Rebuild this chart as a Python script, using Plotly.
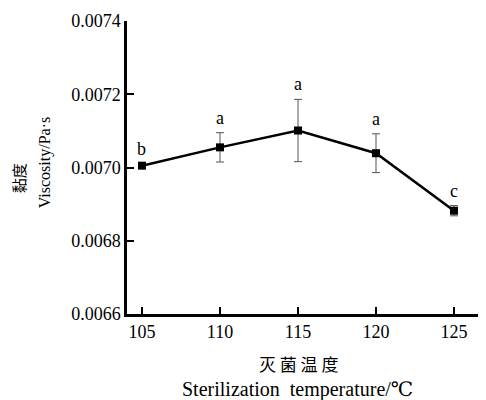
import plotly.graph_objects as go

temps = [105, 110, 115, 120, 125]
viscosity = [0.007005, 0.007055, 0.007101, 0.007039, 0.006882]
errors = [0.000005, 0.000040, 0.000085, 0.000053, 0.000014]
letters = ["b", "a", "a", "a", "c"]
y_ticks = [0.0066, 0.0068, 0.0070, 0.0072, 0.0074]
x_ticks = [105, 110, 115, 120, 125]

serif = "Times New Roman, Liberation Serif, DejaVu Serif, serif"
cjk = "Noto Sans CJK SC, serif"

# page offset compensation (browser body margin of 8px)
OFF = 8
W, H = 486 - OFF, 400 - OFF
PL, PR, PT, PB = 127, 486, 20.7, 313.7  # plot area in page pixels


def px(xp):
    return (xp - PL) / (PR - PL)


def py(yp):
    return (PB - yp) / (PB - PT)


fig = go.Figure()
fig.add_trace(go.Scatter(
    x=temps, y=viscosity, mode="lines+markers",
    line=dict(color="black", width=2.5),
    marker=dict(symbol="square", size=8, color="black"),
    error_y=dict(type="data", array=errors, visible=True, color="#555555",
                 thickness=1, width=4),
    showlegend=False,
))

for t, v, e, l in zip(temps, viscosity, errors, letters):
    fig.add_annotation(x=t, y=v + e, text=l, showarrow=False, yanchor="middle",
                       yshift=15, font=dict(family=serif, size=18, color="black"))

fig.add_annotation(xref="paper", yref="paper", x=px(45), y=py(163),
                   text="Viscosity/Pa·s", textangle=-90, showarrow=False,
                   xanchor="center", yanchor="middle",
                   font=dict(family=serif, size=16, color="black"))
fig.add_annotation(xref="paper", yref="paper", x=px(18), y=py(178),
                   text="黏度", textangle=-90, showarrow=False,
                   xanchor="center", yanchor="middle",
                   font=dict(family=cjk, size=15, color="black"))
fig.add_annotation(xref="paper", yref="paper", x=px(298), y=py(363),
                   text="灭 菌 温 度", showarrow=False,
                   xanchor="center", yanchor="middle",
                   font=dict(family=cjk, size=17, color="black"))
fig.add_annotation(xref="paper", yref="paper", x=px(297), y=py(389),
                   text="Sterilization  temperature/℃", showarrow=False,
                   xanchor="center", yanchor="middle",
                   font=dict(family=serif, size=20, color="black"))

fig.update_layout(
    width=W, height=H,
    margin=dict(l=PL - OFF, r=0, t=PT - OFF, b=H - (PB - OFF), pad=0),
    paper_bgcolor="white", plot_bgcolor="white",
    xaxis=dict(range=[104.04, 127.05], tickvals=x_ticks, ticks="inside", ticklen=7,
               tickwidth=2, tickcolor="black", showline=True, linecolor="black",
               linewidth=2.5, showgrid=False, zeroline=False,
               tickfont=dict(family=serif, size=18, color="black")),
    yaxis=dict(range=[0.0066, 0.0074], tickvals=y_ticks, tickformat=".4f",
               ticks="inside", ticklen=7, tickwidth=2, tickcolor="black",
               showline=True, linecolor="black", linewidth=2.5, showgrid=False,
               zeroline=False, tickfont=dict(family=serif, size=18, color="black")),
)

fig.write_html("out.html")
